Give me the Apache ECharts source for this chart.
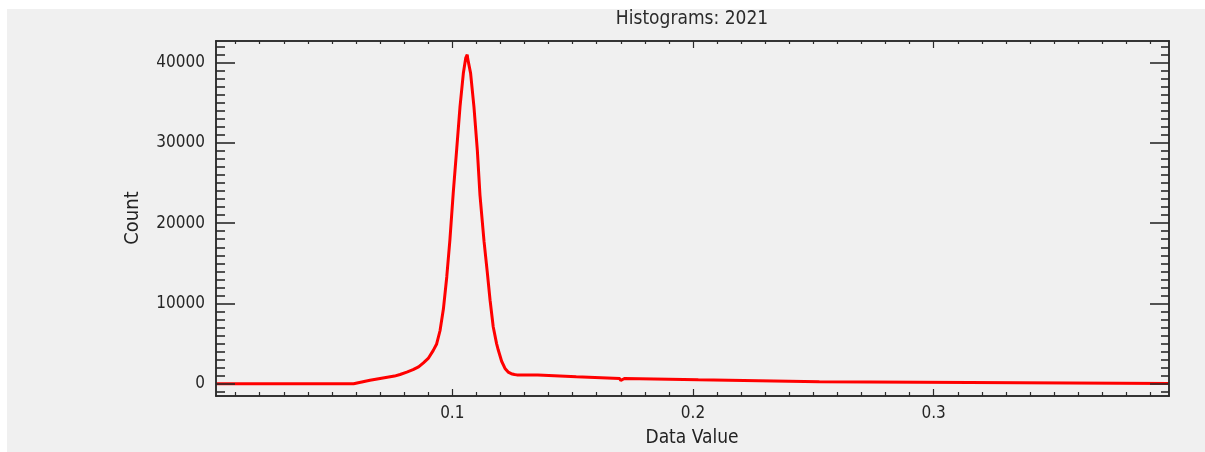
<!DOCTYPE html>
<html>
<head>
<meta charset="utf-8">
<script src="https://cdn.jsdelivr.net/npm/echarts@6/dist/echarts.min.js"></script>
<style>
html,body{margin:0;padding:0;background:#ffffff;}
#chart{position:absolute;left:7px;top:9px;width:1198px;height:443px;}
</style>
</head>
<body>
<div id="chart"></div>
<script>
// ---- data ----
var titleText = 'Histograms: 2021';
var xName = 'Data Value';
var yName = 'Count';

var dataX = [0.002, 0.059, 0.0595, 0.0658, 0.0712, 0.0760, 0.0783, 0.0811, 0.0837, 0.0860, 0.0880, 0.0900, 0.0921, 0.0935, 0.0949, 0.0963, 0.0977, 0.0990, 0.1004, 0.1018, 0.1032, 0.1046, 0.1056, 0.1060, 0.1062, 0.1064, 0.1068, 0.1076, 0.1090, 0.1104, 0.1115, 0.1132, 0.1145, 0.1157, 0.1170, 0.1184, 0.1191, 0.1205, 0.1219, 0.1232, 0.1245, 0.1258, 0.1268, 0.1355, 0.1358, 0.1515, 0.1518, 0.1695, 0.1700, 0.1708, 0.1715, 0.1722, 0.2022, 0.2025, 0.2525, 0.2528, 0.3978];
var dataY = [0, 0, 120, 430, 720, 950, 1150, 1450, 1750, 2100, 2600, 3150, 4150, 4950, 6600, 9300, 13300, 17900, 23800, 29100, 34500, 38700, 40600, 40500, 41000, 40500, 40400, 38700, 34500, 29100, 23500, 17700, 14000, 10400, 7100, 5000, 4200, 2800, 1900, 1450, 1250, 1150, 1100, 1080, 880, 880, 660, 660, 400, 420, 650, 480, 480, 240, 240, 40, 40];

var xLabels = [0.1, 0.2, 0.3];
var xMinorTicks = [0.01,0.02,0.03,0.04,0.05,0.06,0.07,0.08,0.09,0.11,0.12,0.13,0.14,0.15,0.16,0.17,0.18,0.19,0.21,0.22,0.23,0.24,0.25,0.26,0.27,0.28,0.29,0.31,0.32,0.33,0.34,0.35,0.36,0.37,0.38,0.39];
var yLabels = [0, 10000, 20000, 30000, 40000];
var yMinorTicks = [-1000,1000,2000,3000,4000,5000,6000,7000,8000,9000,11000,12000,13000,14000,15000,16000,17000,18000,19000,21000,22000,23000,24000,25000,26000,27000,28000,29000,31000,32000,33000,34000,35000,36000,37000,38000,39000,41000,42000];

var xMin = 0.00183, xMax = 0.39776;
var yMin = -1530, yMax = 42700;

// ---- chart ----
var FONT = 'DejaVu Sans Condensed';
var AX = '#2a2a2a';
var pts = dataX.map(function (x, i) { return [x, dataY[i]]; });

function xAxisDef(pos, ticks, len, labels) {
  return {
    type: 'value', position: pos, min: xMin, max: xMax, z: 5,
    axisLine: { show: true, onZero: false, lineStyle: { color: AX, width: 1.5 } },
    axisTick: { show: true, inside: true, length: len, customValues: ticks, lineStyle: { color: AX, width: 1.2 } },
    axisLabel: labels ? { show: true, customValues: labels, margin: 9, color: '#262626', fontFamily: FONT, fontSize: 17,
      formatter: function (v) { return String(Math.round(v * 10) / 10); } } : { show: false },
    splitLine: { show: false }
  };
}
function yAxisDef(pos, ticks, len, labels) {
  return {
    type: 'value', position: pos, min: yMin, max: yMax, z: 5,
    axisLine: { show: true, onZero: false, lineStyle: { color: AX, width: 1.5 } },
    axisTick: { show: true, inside: true, length: len, customValues: ticks, lineStyle: { color: AX, width: 1.6 } },
    axisLabel: labels ? { show: true, customValues: labels, margin: 11, color: '#262626', fontFamily: FONT, fontSize: 17,
      formatter: function (v) { return String(v); } } : { show: false },
    splitLine: { show: false }
  };
}

var chart = echarts.init(document.getElementById('chart'));
chart.setOption({
  backgroundColor: '#f0f0f0',
  animation: false,
  grid: { left: 209, right: 36, top: 32, bottom: 56 },
  xAxis: [
    xAxisDef('bottom', xLabels, 7, xLabels),
    xAxisDef('bottom', xMinorTicks, 4, null),
    xAxisDef('top', xLabels, 7, null),
    xAxisDef('top', xMinorTicks, 3, null)
  ],
  yAxis: [
    yAxisDef('left', yLabels, 19, yLabels),
    yAxisDef('left', yMinorTicks, 9, null),
    yAxisDef('right', yLabels, 19, null),
    yAxisDef('right', yMinorTicks, 8, null)
  ],
  graphic: [
    { type: 'text', x: 685, y: 10, style: { text: titleText, fill: '#2a2a2a', font: '19px "' + FONT + '"', align: 'center', verticalAlign: 'middle' } },
    { type: 'text', x: 126, y: 209, rotation: Math.PI / 2, style: { text: yName, fill: '#222', font: '20px "' + FONT + '"', align: 'center', verticalAlign: 'middle' } },
    { type: 'text', x: 685, y: 429, style: { text: xName, fill: '#222', font: '19px "' + FONT + '"', align: 'center', verticalAlign: 'middle' } }
  ],
  series: [{
    type: 'line', xAxisIndex: 0, yAxisIndex: 0, data: pts, showSymbol: false, symbol: 'none',
    lineStyle: { color: '#ff0000', width: 3 }, z: 2
  }]
});
</script>
</body>
</html>
